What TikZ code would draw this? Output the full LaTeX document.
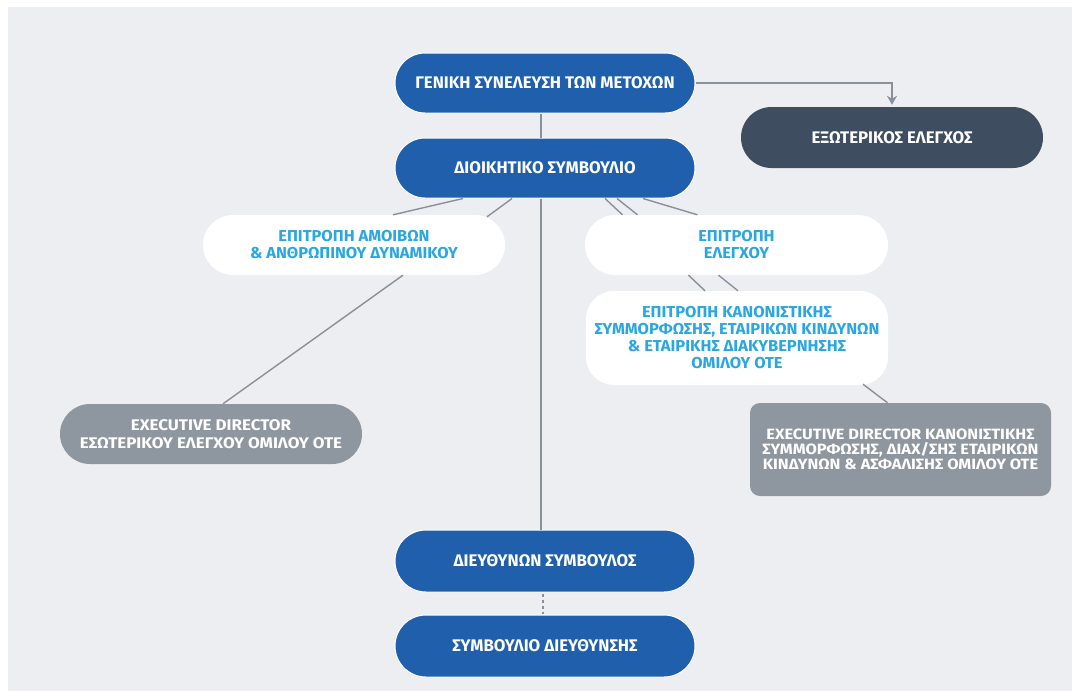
\documentclass[tikz,border=0pt]{standalone}
\usepackage{fontspec}
\setmainfont{Fira Sans}
\newfontfamily\widesans{Fira Sans}[FakeStretch=1.1]
\newfontfamily\semiwidesans{Fira Sans}[FakeStretch=1.04]
\usetikzlibrary{calc,arrows.meta}

\definecolor{panelgray}{HTML}{EDEEF1}
\definecolor{boardblue}{HTML}{1F5FAB}
\definecolor{slate}{HTML}{3E4D60}
\definecolor{execgray}{HTML}{8E969F}
\definecolor{skyblue}{HTML}{2AA6E0}
\definecolor{linkgray}{HTML}{8A9099}

\tikzset{
  pill/.style={minimum width=300, minimum height=60, rounded corners=30,
    align=center, font=\bfseries\fontsize{16.8}{19}\selectfont, inner sep=0},
  bluebox/.style={pill, fill=boardblue, draw=white, line width=1, text=white},
  darkbox/.style={pill, fill=slate, text=white},
  whitebox/.style={pill, fill=white, text=skyblue, font=\semiwidesans\bfseries\fontsize{15.8}{17}\selectfont},
  greybox/.style={pill, fill=execgray, text=white, font=\widesans\bfseries\fontsize{15.4}{18.5}\selectfont},
  link/.style={draw=linkgray, line width=1.4},
}

\begin{document}
\begin{tikzpicture}[x=1pt,y=-1pt]
  % canvas and panel
  \fill[white] (0,0) rectangle (1072,691);
  \fill[panelgray] (8,7) rectangle (1072,691);

  % governance bodies
  \node[bluebox] (gen) at (545,83) {ΓΕΝΙΚΗ ΣΥΝΕΛΕΥΣΗ ΤΩΝ ΜΕΤΟΧΩΝ};
  \node[darkbox, minimum width=302, minimum height=61, rounded corners=30.5] (ext) at (892,137.5) {ΕΞΩΤΕΡΙΚΟΣ ΕΛΕΓΧΟΣ};
  \node[bluebox] (dio) at (545,168) {ΔΙΟΙΚΗΤΙΚΟ ΣΥΜΒΟΥΛΙΟ};

  % committees
  \node[whitebox, minimum width=302] (amo) at (354,245) {ΕΠΙΤΡΟΠΗ ΑΜΟΙΒΩΝ\\\& ΑΝΘΡΩΠΙΝΟΥ ΔΥΝΑΜΙΚΟΥ};
  \node[whitebox, minimum width=303] (ele) at (736.5,245) {ΕΠΙΤΡΟΠΗ\\ΕΛΕΓΧΟΥ};
  \node[whitebox, minimum width=302, minimum height=94, rounded corners=28] (kan) at (737,338)
    {ΕΠΙΤΡΟΠΗ ΚΑΝΟΝΙΣΤΙΚΗΣ\\ΣΥΜΜΟΡΦΩΣΗΣ, ΕΤΑΙΡΙΚΩΝ ΚΙΝΔΥΝΩΝ\\\& ΕΤΑΙΡΙΚΗΣ ΔΙΑΚΥΒΕΡΝΗΣΗΣ\\ΟΜΙΛΟΥ ΟΤΕ};

  % executive directors
  \node[greybox, minimum width=302] (exl) at (211,434) {EXECUTIVE DIRECTOR\\ΕΣΩΤΕΡΙΚΟΥ ΕΛΕΓΧΟΥ ΟΜΙΛΟΥ ΟΤΕ};
  \node[greybox, minimum width=301, minimum height=93, rounded corners=10,
        font=\widesans\bfseries\fontsize{14.9}{15.2}\selectfont] (exr) at (900.5,449.5)
    {EXECUTIVE DIRECTOR ΚΑΝΟΝΙΣΤΙΚΗΣ\\ΣΥΜΜΟΡΦΩΣΗΣ, ΔΙΑΧ/ΣΗΣ ΕΤΑΙΡΙΚΩΝ\\ΚΙΝΔΥΝΩΝ \& ΑΣΦΑΛΙΣΗΣ ΟΜΙΛΟΥ ΟΤΕ};

  % management
  \node[bluebox, minimum height=62, rounded corners=31] (dir) at (545,561) {ΔΙΕΥΘΥΝΩΝ ΣΥΜΒΟΥΛΟΣ};
  \node[bluebox, minimum height=62, rounded corners=31] (sym) at (545,646) {ΣΥΜΒΟΥΛΙΟ ΔΙΕΥΘΥΝΣΗΣ};

  % reporting lines
  \draw[link] ($(gen.south)+(-4,0)$) -- ($(dio.north)+(-4,0)$);
  \draw[link] ($(dio.south)+(-4,0)$) -- ($(dir.north)+(-4,0)$);
  \draw[link, dash pattern=on 3 off 3] ($(dir.south)+(-2,1)$) -- ($(sym.north)+(-2,-1)$);
  \draw[link, -{Stealth[width=10,length=9]}] (gen.east) -| ($(ext.north)+(0,-2)$);

  % board to committees
  \draw[link] ($(dio.south)+(-82,0)$) -- ($(amo.north)+(39,0)$);
  \draw[link] ($(dio.south)+(-33,0)$) -- ($(amo.north)+(133,2)$);
  \draw[link] ($(dio.south)+(60,0)$) -- ($(ele.north)+(-114,0)$);
  \draw[link] ($(dio.south)+(72,0)$) -- ($(ele.north)+(-99,0)$);
  \draw[link] ($(dio.south)+(98,0)$) -- ($(ele.north)+(-39,0)$);

  % committees onwards
  \draw[link] ($(ele.south)+(-48,0)$) -- ($(kan.north)+(-32,0)$);
  \draw[link] ($(ele.south)+(-18,0)$) -- ($(kan.north)+(1,0)$);
  \draw[link] ($(amo.south)+(49,0)$) -- ($(exl.north)+(12,0)$);
  \draw[link] ($(kan.south)+(126,-1)$) -- ($(exr.north)+(-13,0)$);
\end{tikzpicture}
\end{document}
